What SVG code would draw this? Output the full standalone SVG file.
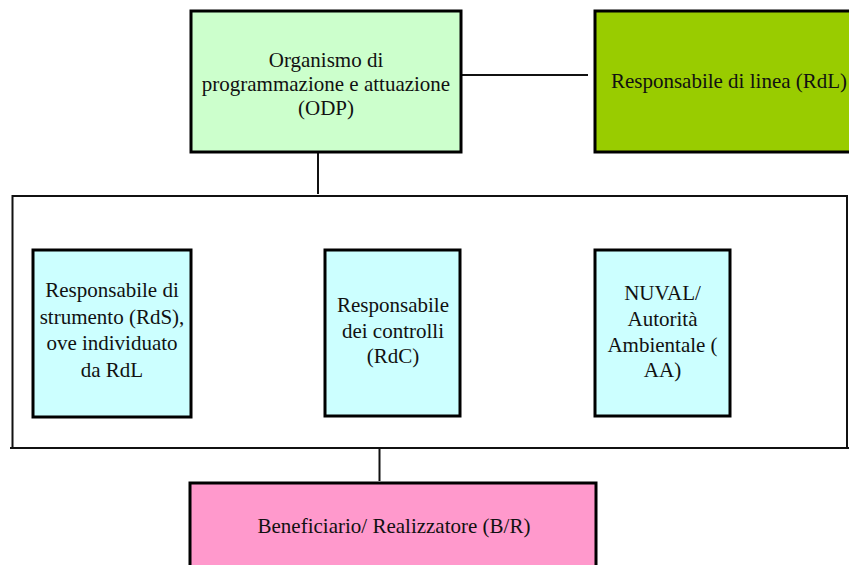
<svg xmlns="http://www.w3.org/2000/svg" width="849" height="565" viewBox="0 0 849 565">
<style>
.box{stroke:#000;stroke-width:3}
.t{font-family:"Liberation Serif","Times New Roman",serif;font-size:21px;fill:#111;text-anchor:middle}
.c{stroke:#111;stroke-width:2;fill:none}
</style>
<rect width="849" height="565" fill="#fff"/>
<g id="connectors">
<line class="c" x1="461" y1="75" x2="588" y2="75"/>
<line class="c" x1="318" y1="152" x2="318" y2="194"/>
<line class="c" x1="379.5" y1="448" x2="379.5" y2="481"/>
</g>
<g id="container">
<path class="c" d="M12.5 448 V196 H847 V448"/>
<line class="c" x1="10" y1="448" x2="849" y2="448"/>
</g>
<g id="odp">
<rect class="box" x="191" y="11" width="270" height="141" fill="#ccffcc"/>
<text class="t" x="326" y="67">Organismo di</text>
<text class="t" x="326" y="91">programmazione e attuazione</text>
<text class="t" x="326" y="115">(ODP)</text>
</g>
<g id="rdl">
<rect class="box" x="595" y="11" width="260" height="141" fill="#99cc00"/>
<text class="t" x="729" y="88">Responsabile di linea (RdL)</text>
</g>
<g id="rds">
<rect class="box" x="33" y="250" width="158" height="167" fill="#ccffff"/>
<text class="t" x="112" y="297">Responsabile di</text>
<text class="t" x="112" y="323.5">strumento (RdS),</text>
<text class="t" x="112" y="350">ove individuato</text>
<text class="t" x="112" y="376.5">da RdL</text>
</g>
<g id="rdc">
<rect class="box" x="325" y="250" width="135" height="166" fill="#ccffff"/>
<text class="t" x="393" y="312">Responsabile</text>
<text class="t" x="393" y="338">dei controlli</text>
<text class="t" x="393" y="363">(RdC)</text>
</g>
<g id="nuval">
<rect class="box" x="595" y="250" width="135" height="166" fill="#ccffff"/>
<text class="t" x="662.5" y="300">NUVAL/</text>
<text class="t" x="662.5" y="326">Autorità</text>
<text class="t" x="662.5" y="352">Ambientale (</text>
<text class="t" x="662.5" y="377">AA)</text>
</g>
<g id="br">
<rect class="box" x="190" y="483" width="406" height="100" fill="#ff99cc"/>
<text class="t" x="394" y="533">Beneficiario/ Realizzatore (B/R)</text>
</g>
</svg>
